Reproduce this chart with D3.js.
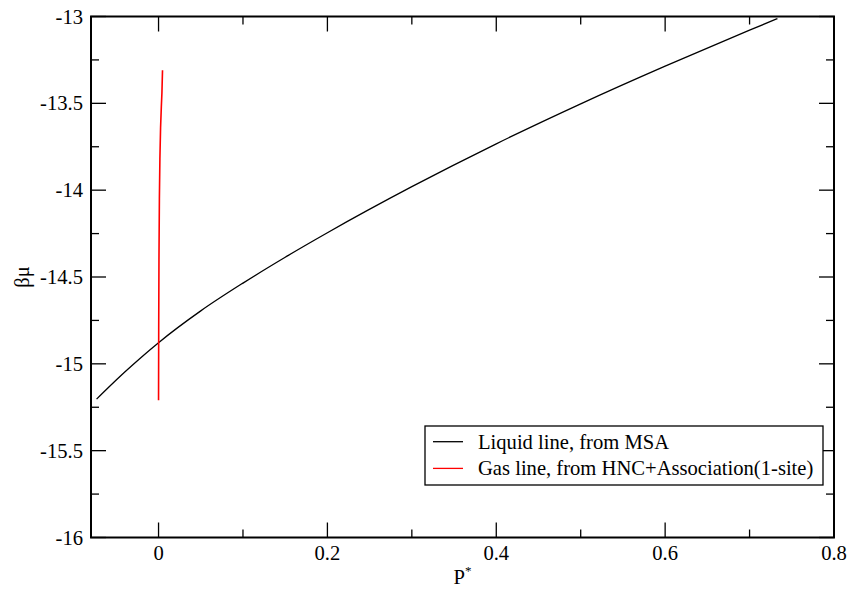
<!DOCTYPE html>
<html>
<head>
<meta charset="utf-8">
<script src="https://cdn.jsdelivr.net/npm/d3@7"></script>
<style>
  html, body { margin: 0; padding: 0; background: #fff; }
</style>
</head>
<body>
<svg id="chart" width="850" height="591" font-family="'Liberation Serif', Tinos, 'Times New Roman', Times, 'DejaVu Serif', serif"></svg>
<script>
// Liquid branch (MSA): reduced pressure vs beta*mu
const liquidP  = [-0.0734, -0.06, -0.04, -0.02, 0, 0.05, 0.1, 0.15, 0.2, 0.3, 0.4, 0.5, 0.6, 0.7, 0.733];
const liquidMu = [-15.203, -15.139, -15.047, -14.96, -14.878, -14.695, -14.535, -14.386, -14.245, -13.98, -13.733, -13.503, -13.286, -13.079, -13.012];

// Gas branch (HNC + association, 1 site)
const gasP  = [0, 0.0002, 0.0005, 0.001, 0.0016, 0.0024, 0.0033, 0.004, 0.0047];
const gasMu = [-15.21, -14.8, -14.4, -14.05, -13.82, -13.64, -13.52, -13.44, -13.31];

const xMajor = [0, 0.2, 0.4, 0.6, 0.8];
const xMinor = [-0.1, 0.1, 0.3, 0.5, 0.7];
const yMajor = [-16, -15.5, -15, -14.5, -14, -13.5, -13];
const yMinor = [-15.75, -15.25, -14.75, -14.25, -13.75, -13.25];

const seriesNames = ["Liquid line, from MSA", "Gas line, from HNC+Association(1-site)"];
const seriesColors = ["#000000", "#ff0000"];

const svg = d3.select("#chart");
const L = 91, R = 834, T = 16.5, B = 537.5;
const FS = 20.6;

const x = d3.scaleLinear().domain([-0.08, 0.8]).range([L, R]);
const y = d3.scaleLinear().domain([-16, -13]).range([B, T]);

const fmt = d => String(d);

// Tick marks pointing inward on all four sides
function ticks(sel, scale, vals, len, orient) {
  vals.filter(v => v >= scale.domain()[0] - 1e-9 && v <= scale.domain()[1] + 1e-9).forEach(v => {
    const p = scale(v);
    if (orient === "bottom") sel.append("line").attr("x1", p).attr("x2", p).attr("y1", B).attr("y2", B - len);
    if (orient === "top")    sel.append("line").attr("x1", p).attr("x2", p).attr("y1", T).attr("y2", T + len);
    if (orient === "left")   sel.append("line").attr("y1", p).attr("y2", p).attr("x1", L).attr("x2", L + len);
    if (orient === "right")  sel.append("line").attr("y1", p).attr("y2", p).attr("x1", R).attr("x2", R - len);
  });
}
const tg = svg.append("g").attr("stroke", "#000").attr("stroke-width", 1.3);
["bottom", "top"].forEach(o => { ticks(tg, x, xMajor, 15, o); ticks(tg, x, xMinor, 8, o); });
["left", "right"].forEach(o => { ticks(tg, y, yMajor, 15, o); ticks(tg, y, yMinor, 8, o); });

// Tick labels
svg.append("g").selectAll("text").data(xMajor).join("text")
  .attr("x", d => x(d)).attr("y", 559.5)
  .attr("text-anchor", "middle").attr("font-size", FS).text(fmt);
svg.append("g").selectAll("text").data(yMajor).join("text")
  .attr("x", 83).attr("y", d => y(d) + 7)
  .attr("text-anchor", "end").attr("font-size", FS).text(fmt);

// Curves
const line = d3.line().x(d => x(d[0])).y(d => y(d[1])).curve(d3.curveMonotoneX);
const liquid = liquidP.map((p, i) => [p, liquidMu[i]]);
const gasLine = d3.line().x(d => x(d[0])).y(d => y(d[1])).curve(d3.curveLinear);
const gas = gasP.map((p, i) => [p, gasMu[i]]);

svg.append("path").datum(liquid).attr("d", line)
  .attr("fill", "none").attr("stroke", seriesColors[0]).attr("stroke-width", 1.3);
svg.append("path").datum(gas).attr("d", gasLine)
  .attr("fill", "none").attr("stroke", seriesColors[1]).attr("stroke-width", 1.6);

// Frame
svg.append("rect").attr("x", L).attr("y", T).attr("width", R - L).attr("height", B - T)
  .attr("fill", "none").attr("stroke", "#000").attr("stroke-width", 2);

// Axis titles
svg.append("text").attr("transform", "translate(29," + ((T + B) / 2) + ") rotate(-90)")
  .attr("text-anchor", "middle").attr("font-size", FS).text("βμ");
const xt = svg.append("text").attr("x", (L + R) / 2).attr("y", 584)
  .attr("text-anchor", "middle").attr("font-size", FS);
xt.append("tspan").text("P");
xt.append("tspan").attr("dy", -9).attr("font-size", 13).text("*");

// Legend
const lg = svg.append("g");
lg.append("rect").attr("x", 425).attr("y", 426).attr("width", 398).attr("height", 59)
  .attr("fill", "#fff").attr("stroke", "#000").attr("stroke-width", 1.3);
seriesNames.forEach((name, i) => {
  const yy = 441.7 + i * 26.7;
  lg.append("line").attr("x1", 433).attr("x2", 463).attr("y1", yy).attr("y2", yy)
    .attr("stroke", seriesColors[i]).attr("stroke-width", 1.3);
  lg.append("text").attr("x", 478).attr("y", yy + 7).attr("font-size", FS).text(name);
});
</script>
</body>
</html>
